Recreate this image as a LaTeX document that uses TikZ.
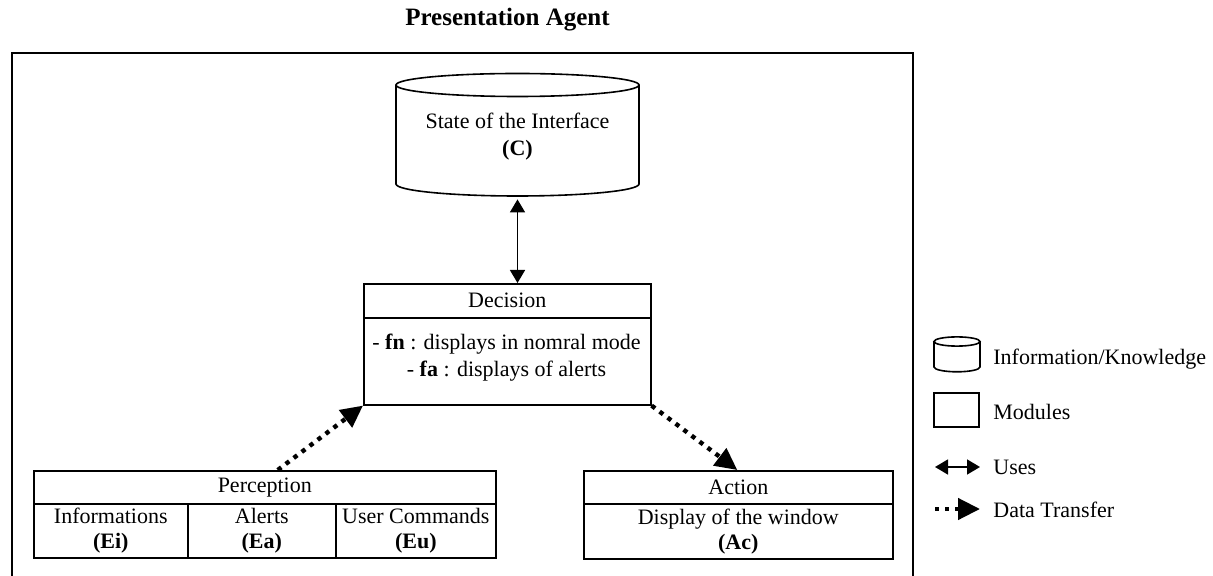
\documentclass[tikz,border=0pt]{standalone}
\usepackage{fontspec}
\setmainfont{Liberation Serif}
\usetikzlibrary{arrows.meta}
\begin{document}
\begin{tikzpicture}[x=0.5pt,y=-0.5pt,
  txt/.style={font=\fontsize{11}{12.5}\selectfont, align=center, inner sep=0pt},
  box/.style={draw, line width=0.8pt, txt},
  cylline/.style={line width=0.8pt},
  uses/.style={line width=0.8pt, {Triangle[length=6.5pt,width=7.5pt]}-{Triangle[length=6.5pt,width=7.5pt]}},
  transfer/.style={line width=2.2pt, dash pattern=on 2.2pt off 2.8pt, -{Triangle[length=11pt,width=10.5pt]}},
  legtxt/.style={font=\fontsize{11}{12.5}\selectfont, anchor=west, inner sep=0pt}
]
\useasboundingbox (0,0) rectangle (1213,576);
\clip (0,0) rectangle (1213,576);

% title
\node[font=\fontsize{12.5}{14}\selectfont\bfseries, inner sep=0pt] (title) at (507.5,20) {Presentation Agent};

% frame
\draw[line width=1pt] (12,590) -- (12,53) -- (913,53) -- (913,590);

% cylinder C
\draw[cylline, fill=white] (396,85) -- (396,184) arc[start angle=180, end angle=360, x radius=60.75pt, y radius=6pt] -- (639,85);
\draw[cylline] (517.5,85) ellipse [x radius=60.75pt, y radius=5.75pt];
\node[inner sep=0pt, minimum width=121.5pt, minimum height=61.5pt] (cyl) at (517.5,134.5) {};
\node[txt] (ctext) at (517.5,137) {State of the Interface\\[1pt]\textbf{(C)}};

% Decision
\node[box, minimum width=143.5pt, minimum height=17pt, anchor=north west] (dech) at (363,283) {Decision};
\node[box, minimum width=143.5pt, minimum height=43.5pt, anchor=north west] (decb) at (363,317) {};
\node[txt] (dectext) at (506.5,358) {- \textbf{fn} : displays in nomral mode\\[1pt] - \textbf{fa} : displays of alerts};

% Perception
\node[box, minimum width=231pt, minimum height=16.5pt, anchor=north west] (perh) at (33,470) {Perception};
\node[box, minimum width=77pt, minimum height=27pt, anchor=north west] (pei) at (33,503) {Informations\\\textbf{(Ei)}};
\node[box, minimum width=74pt, minimum height=27pt, anchor=north west] (pea) at (187,503) {Alerts\\\textbf{(Ea)}};
\node[box, minimum width=80pt, minimum height=27pt, anchor=north west] (peu) at (335,503) {User Commands\\\textbf{(Eu)}};

% Action
\node[box, minimum width=154.5pt, minimum height=16.5pt, anchor=north west] (acth) at (583,470) {Action};
\node[box, minimum width=154.5pt, minimum height=27.5pt, anchor=north west] (actb) at (583,503) {Display of the window\\\textbf{(Ac)}};

% connectors
\draw[uses, shorten <=1.5pt] (cyl.south) -- (cyl.south |- dech.north);
\draw[transfer] ([xshift=6.5pt]perh.north) -- (decb.south west);
\draw[transfer] (decb.south east) -- ([xshift=-0.5pt]acth.north);

% legend
\draw[cylline] (934,341.5) -- (934,367) arc[start angle=180, end angle=360, x radius=11.5pt, y radius=2.4pt] -- (980,341.5);
\draw[cylline] (957,341.5) ellipse [x radius=11.5pt, y radius=2.3pt];
\node[legtxt] (l1) at (993,359) {Information/Knowledge};
\node[draw, line width=0.8pt, minimum width=22.5pt, minimum height=17pt, inner sep=0pt] (lbox) at (956.5,410) {};
\node[legtxt] (l2) at (993,412) {Modules};
\coordinate (u1) at (935,467);
\coordinate (u2) at (980,467);
\draw[uses] (u1) -- (u2);
\node[legtxt] (l3) at (993,467) {Uses};
\coordinate (t1) at (935,509);
\coordinate (t2) at (980,509);
\draw[transfer] (t1) -- (t2);
\node[legtxt] (l4) at (993,510) {Data Transfer};
\end{tikzpicture}
\end{document}
